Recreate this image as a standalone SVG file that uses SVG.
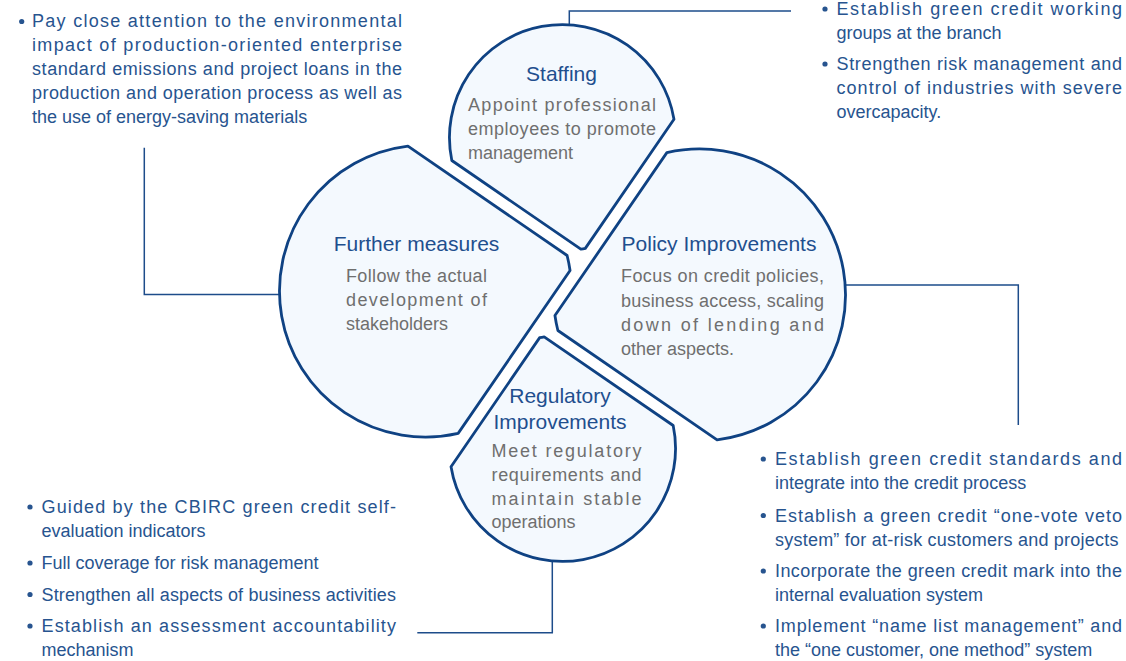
<svg xmlns="http://www.w3.org/2000/svg" width="1126" height="661" viewBox="0 0 1126 661">
<style>
.petal{fill:#f4f9fe;stroke:#0f4283;stroke-width:2.8;stroke-linejoin:round}
.conn{fill:none;stroke:#1d4c8a;stroke-width:1.5}
.title{font-family:"Liberation Sans",Arial,sans-serif;font-size:21px;fill:#1f4f8e;text-anchor:middle}
.body{font-family:"Liberation Sans",Arial,sans-serif;font-size:18px;fill:#6f6f6f}
.side{font-family:"Liberation Sans",Arial,sans-serif;font-size:18px;fill:#27548f}
.dot{fill:#27548f}
</style>
<rect width="1126" height="661" fill="#ffffff"/>
<g id="connectors">
<path class="conn" d="M569.3,25 V11 H791"/>
<path class="conn" d="M280,294.5 H144.3 V147.7"/>
<path class="conn" d="M845,285 H1018.3 V425"/>
<path class="conn" d="M552.3,560.5 V632.7 H417.3"/>
</g>
<g id="staffing">
<path class="petal" transform="translate(562.5,293) rotate(34.5)" d="M-6.5,-206.27 L-6.5,-49.73 A113,113 0 0 1 -9.73,-46.5 L-166.27,-46.5 A113,113 0 1 1 -6.5,-206.27 Z"/>
<text class="title" x="561.5" y="81">Staffing</text>
<text class="body" x="468" y="111" textLength="188" lengthAdjust="spacing">Appoint professional</text>
<text class="body" x="468" y="135" textLength="188" lengthAdjust="spacing">employees to promote</text>
<text class="body" x="468" y="159">management</text>
</g>
<g id="further-measures">
<path class="petal" transform="translate(562.5,293) rotate(34.5)" d="M-210.57,-33.5 L-17.43,-33.5 A146,146 0 0 1 -6.5,-22.79 L-6.5,174.79 A146,146 0 1 1 -210.57,-33.5 Z"/>
<text class="title" x="416.5" y="251">Further measures</text>
<text class="body" x="346" y="282" textLength="141" lengthAdjust="spacing">Follow the actual</text>
<text class="body" x="346" y="306" textLength="141" lengthAdjust="spacing">development of</text>
<text class="body" x="346" y="330">stakeholders</text>
</g>
<g id="policy-improvements">
<path class="petal" transform="translate(562.5,293) rotate(34.5)" d="M210.57,33.5 L17.43,33.5 A146,146 0 0 1 6.5,22.79 L6.5,-174.79 A146,146 0 1 1 210.57,33.5 Z"/>
<text class="title" x="719" y="251">Policy Improvements</text>
<text class="body" x="621" y="282" textLength="203" lengthAdjust="spacing">Focus on credit policies,</text>
<text class="body" x="621" y="306.5" textLength="203" lengthAdjust="spacing">business access, scaling</text>
<text class="body" x="621" y="331" textLength="203" lengthAdjust="spacing">down of lending and</text>
<text class="body" x="621" y="355">other aspects.</text>
</g>
<g id="regulatory-improvements">
<path class="petal" transform="translate(562.5,293) rotate(34.5)" d="M6.5,206.27 L6.5,49.73 A113,113 0 0 1 9.73,46.5 L166.27,46.5 A113,113 0 1 1 6.5,206.27 Z"/>
<text class="title" x="560" y="403">Regulatory</text>
<text class="title" x="560" y="429">Improvements</text>
<text class="body" x="491.5" y="456.5" textLength="150" lengthAdjust="spacing">Meet regulatory</text>
<text class="body" x="491.5" y="480.5" textLength="150" lengthAdjust="spacing">requirements and</text>
<text class="body" x="491.5" y="504.5" textLength="150" lengthAdjust="spacing">maintain stable</text>
<text class="body" x="491.5" y="528">operations</text>
</g>
<g id="further-notes">
<circle class="dot" cx="21.7" cy="21.5" r="2.6"/>
<text class="side" x="32" y="27" textLength="370" lengthAdjust="spacing">Pay close attention to the environmental</text>
<text class="side" x="32" y="51" textLength="370" lengthAdjust="spacing">impact of production-oriented enterprise</text>
<text class="side" x="32" y="75" textLength="370" lengthAdjust="spacing">standard emissions and project loans in the</text>
<text class="side" x="32" y="99" textLength="370" lengthAdjust="spacing">production and operation process as well as</text>
<text class="side" x="32" y="123">the use of energy-saving materials</text>
</g>
<g id="staffing-notes">
<circle class="dot" cx="825" cy="9" r="2.6"/>
<text class="side" x="836.5" y="15" textLength="285.5" lengthAdjust="spacing">Establish green credit working</text>
<text class="side" x="836.5" y="39">groups at the branch</text>
<circle class="dot" cx="825" cy="64" r="2.6"/>
<text class="side" x="836.5" y="70" textLength="285.5" lengthAdjust="spacing">Strengthen risk management and</text>
<text class="side" x="836.5" y="94" textLength="285.5" lengthAdjust="spacing">control of industries with severe</text>
<text class="side" x="836.5" y="118">overcapacity.</text>
</g>
<g id="regulatory-notes">
<circle class="dot" cx="30" cy="507" r="2.6"/>
<text class="side" x="41.5" y="513" textLength="354.5" lengthAdjust="spacing">Guided by the CBIRC green credit self-</text>
<text class="side" x="41.5" y="537">evaluation indicators</text>
<circle class="dot" cx="30" cy="563" r="2.6"/>
<text class="side" x="41.5" y="569">Full coverage for risk management</text>
<circle class="dot" cx="30" cy="594.5" r="2.6"/>
<text class="side" x="41.5" y="600.5" textLength="354.5" lengthAdjust="spacing">Strengthen all aspects of business activities</text>
<circle class="dot" cx="30" cy="626" r="2.6"/>
<text class="side" x="41.5" y="632" textLength="354.5" lengthAdjust="spacing">Establish an assessment accountability</text>
<text class="side" x="41.5" y="655.5">mechanism</text>
</g>
<g id="policy-notes">
<circle class="dot" cx="763.3" cy="459" r="2.6"/>
<text class="side" x="775" y="465" textLength="347" lengthAdjust="spacing">Establish green credit standards and</text>
<text class="side" x="775" y="489">integrate into the credit process</text>
<circle class="dot" cx="763.3" cy="515.5" r="2.6"/>
<text class="side" x="775" y="521.5" textLength="347" lengthAdjust="spacing">Establish a green credit “one-vote veto</text>
<text class="side" x="775" y="545.5" textLength="343.5" lengthAdjust="spacing">system” for at-risk customers and projects</text>
<circle class="dot" cx="763.3" cy="571" r="2.6"/>
<text class="side" x="775" y="577" textLength="347" lengthAdjust="spacing">Incorporate the green credit mark into the</text>
<text class="side" x="775" y="600.5">internal evaluation system</text>
<circle class="dot" cx="763.3" cy="626" r="2.6"/>
<text class="side" x="775" y="632" textLength="347" lengthAdjust="spacing">Implement “name list management” and</text>
<text class="side" x="775" y="655.5">the “one customer, one method” system</text>
</g>
</svg>
